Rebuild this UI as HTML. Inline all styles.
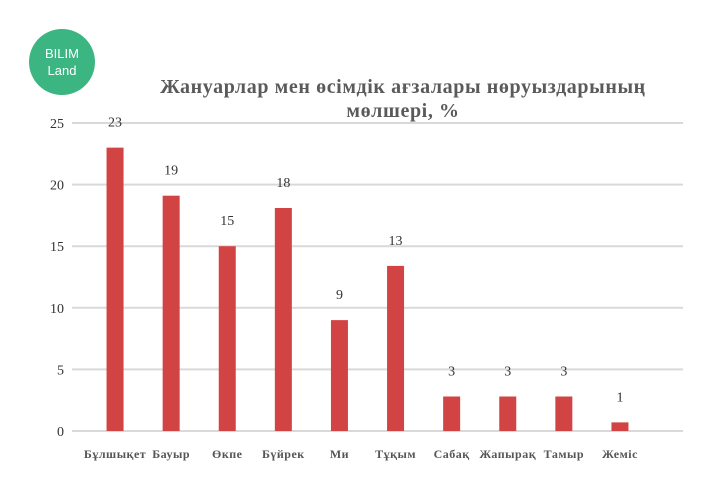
<!DOCTYPE html>
<html><head><meta charset="utf-8"><style>
body{margin:0;background:#fff;width:720px;height:480px;overflow:hidden;font-family:"Liberation Serif",serif}
</style></head><body>
<svg width="720" height="480">
<g>
<circle cx="62" cy="62" r="33" fill="#3bb581"/>
<text x="62" y="58" text-anchor="middle" font-family="Liberation Sans,sans-serif" font-size="13" fill="#fff">BILIM</text>
<text x="62" y="75" text-anchor="middle" font-family="Liberation Sans,sans-serif" font-size="13" fill="#fff">Land</text>
</g>
<text x="403" y="93" text-anchor="middle" font-size="20" font-weight="bold" letter-spacing="0.6" fill="#5a5a5a">Жануарлар мен өсімдік ағзалары нөруыздарының</text>
<text x="403" y="117" text-anchor="middle" font-size="20" font-weight="bold" letter-spacing="0.6" fill="#5a5a5a">мөлшері, %</text>
<g id="grid"></g><g id="bars"></g>
</svg>
<script>
const categories=["Бұлшықет","Бауыр","Өкпе","Бүйрек","Ми","Тұқым","Сабақ","Жапырақ","Тамыр","Жеміс"];
const values=[23,19.1,15,18.1,9,13.4,2.8,2.8,2.8,0.7];
const valueLabels=["23","19","15","18","9","13","3","3","3","1"];
const ticks=[0,5,10,15,20,25];
const NS="http://www.w3.org/2000/svg";
const y0=431,yTop=123,yMax=25,left=87,band=56.1,bw=17;
const y=v=>y0-(v/yMax)*(y0-yTop);
const x=i=>left+band*i+band/2;
function mk(t,a,p,txt){const e=document.createElementNS(NS,t);for(const k in a)e.setAttribute(k,a[k]);if(txt!=null)e.textContent=txt;p.appendChild(e);return e;}
const g=document.getElementById('grid'),b=document.getElementById('bars');
ticks.forEach(t=>{
const l=mk('line',{x1:72,x2:683,y1:y(t),y2:y(t),stroke:'#d9d9d9','stroke-width':2},g);


const tx=mk('text',{x:64,y:y(t)+5,'text-anchor':'end','font-size':14,fill:'#333'},g,String(t));


});
categories.forEach((c,i)=>{
const r=mk('rect',{x:x(i)-bw/2,y:y(values[i]),width:bw,height:y0-y(values[i]),fill:'#d24343'},b);


const vl=mk('text',{x:x(i),y:y(values[i])-21,'text-anchor':'middle','font-size':14,fill:'#333'},b,valueLabels[i]);


const cl=mk('text',{x:x(i),y:458,'text-anchor':'middle','font-size':12,'font-weight':'bold','letter-spacing':'0.5',fill:'#555'},b,c);


});
</script>
</body></html>
